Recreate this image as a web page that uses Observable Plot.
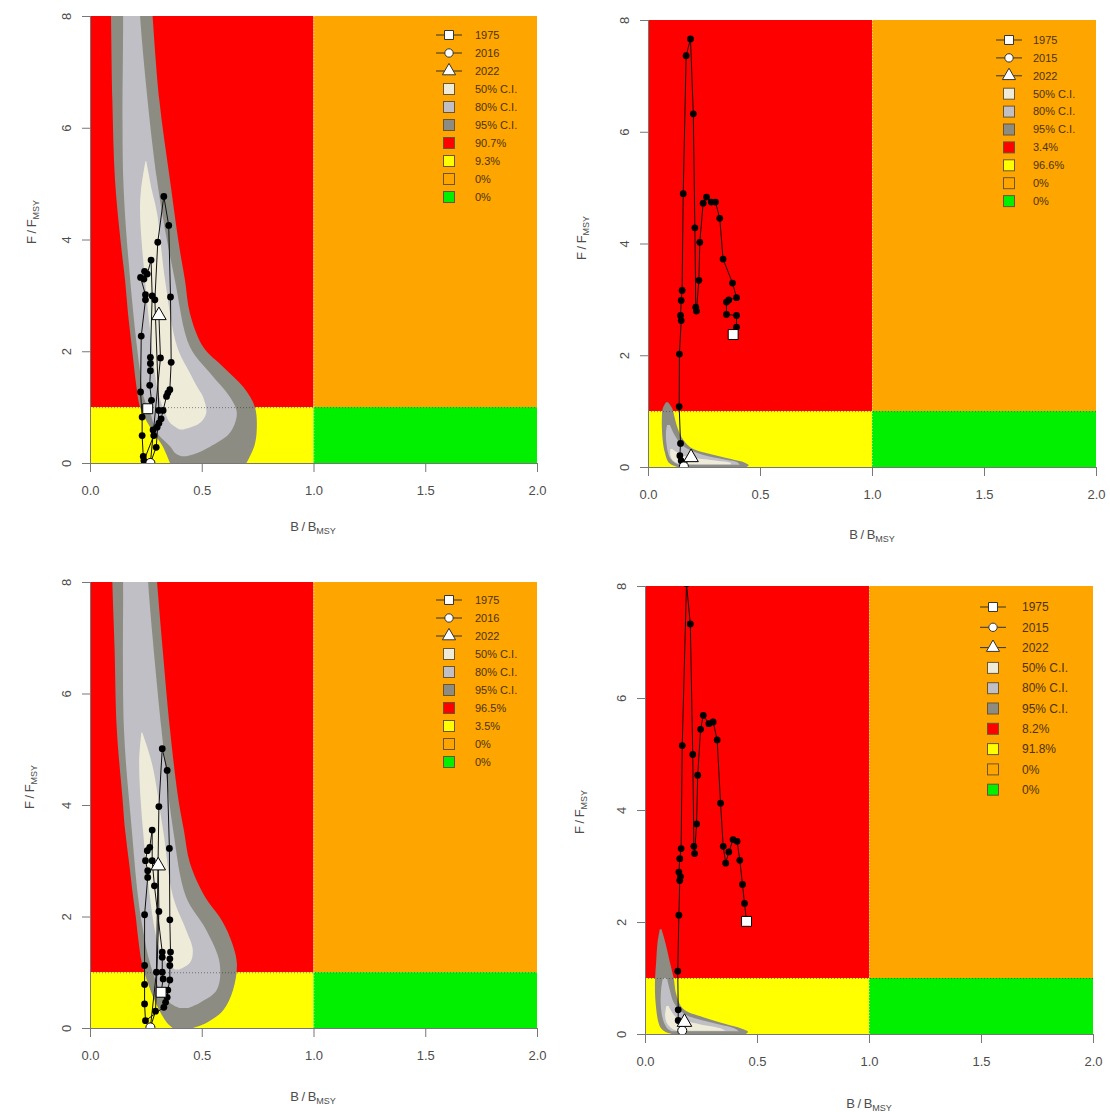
<!DOCTYPE html>
<html><head><meta charset="utf-8">
<script src="https://cdn.jsdelivr.net/npm/d3@7"></script>
<script src="https://cdn.jsdelivr.net/npm/@observablehq/plot@0.6"></script>
<style>
body{margin:0;background:#fff;overflow:hidden;}
#wrap{position:relative;width:1110px;height:1112px;}
.panel{position:absolute;}
</style></head><body><div id="wrap"></div>
<script>
// ---------- shared values ----------
const xTicks = [0, 0.5, 1, 1.5, 2];
const yTicks = [0, 2, 4, 6, 8];
const Bref = 1, Fref = 1, Bmax = 2, Fmax = 8;
const zoneColors = {red: "#FF0000", orange: "#FFA500", yellow: "#FFFF00", green: "#00F000"};
const ciColors = {c50: "#efebd9", c80: "#bfbfc5", c95: "#8c8c82"};
const ciLabels = ["50% C.I.", "80% C.I.", "95% C.I."];

// ---------- panel 1 (top-left) ----------
const p1Years = ["1975", "2016", "2022"];
const p1Pct = ["90.7%", "9.3%", "0%", "0%"];
const p1Traj = [[0.256,0.98],[0.273,1.13],[0.265,1.40],[0.268,1.66],[0.268,1.79],[0.268,1.90],[0.276,3.00],[0.271,3.64],[0.254,3.39],[0.242,3.44],[0.239,3.30],[0.224,3.33],[0.246,3.02],[0.246,2.93],[0.227,2.28],[0.224,1.28],[0.231,0.83],[0.231,0.50],[0.236,0.125],[0.239,0.05],[0.283,0.50],[0.28,0.60],[0.298,0.65],[0.306,0.72],[0.316,0.80],[0.325,0.95],[0.34,1.20],[0.346,1.26],[0.355,1.32],[0.361,1.81],[0.358,2.98],[0.35,4.26],[0.328,4.78],[0.301,3.96],[0.288,2.93],[0.306,0.95],[0.294,0.29],[0.268,0.01],[0.313,1.89],[0.306,2.65]];
const p1Mid = 37;
const p1Ci95 = [[8.5,0.092,0.272],[8,0.094,0.28],[6.5,0.10,0.31],[5.06,0.112,0.358],[3.86,0.14,0.40],[3.27,0.157,0.425],[2.68,0.17,0.447],[2.08,0.187,0.506],[1.72,0.197,0.596],[1.36,0.208,0.686],[1.0,0.224,0.738],[0.59,0.277,0.746],[0.3,0.325,0.735],[0.0,0.358,0.70]];
const p1Ci80 = [[8.5,0.146,0.22],[8,0.148,0.224],[5.06,0.149,0.30],[3.27,0.18,0.38],[2.08,0.21,0.447],[1.61,0.225,0.537],[1.18,0.24,0.626],[0.89,0.27,0.657],[0.54,0.30,0.626],[0.29,0.36,0.537],[0.18,0.38,0.48],[0.12,0.41,0.43]];
const p1Ci50 = [[5.4,0.248,0.252],[4.88,0.228,0.277],[4.47,0.224,0.30],[3.27,0.246,0.336],[2.08,0.277,0.39],[1.61,0.29,0.447],[1.36,0.30,0.48],[1.18,0.31,0.506],[0.89,0.336,0.52],[0.71,0.36,0.49],[0.6,0.40,0.42]];

// ---------- panel 2 (top-right) ----------
const p2Years = ["1975", "2015", "2022"];
const p2Pct = ["3.4%", "96.6%", "0%", "0%"];
const p2Traj = [[0.378,2.38],[0.393,2.51],[0.393,2.72],[0.348,2.74],[0.348,2.96],[0.358,3.0],[0.393,3.04],[0.375,3.3],[0.333,3.73],[0.318,4.46],[0.299,4.75],[0.28,4.75],[0.259,4.84],[0.244,4.73],[0.229,4.03],[0.225,3.35],[0.214,2.8],[0.211,2.87],[0.207,4.29],[0.2,6.33],[0.1875,7.67],[0.168,7.37],[0.155,4.9],[0.15,3.17],[0.146,2.99],[0.143,2.72],[0.146,2.63],[0.138,2.03],[0.137,1.09],[0.143,0.43],[0.14,0.21],[0.146,0.12],[0.158,0.02],[0.19,0.18]];
const p2Mid = 32;
const p2Ci95 = [[1.16,0.08,0.09],[1.05,0.066,0.108],[0.9,0.062,0.118],[0.7,0.062,0.132],[0.5,0.065,0.155],[0.35,0.07,0.19],[0.25,0.076,0.26],[0.16,0.082,0.35],[0.08,0.092,0.43],[0.03,0.11,0.45],[0.0,0.13,0.44]];
const p2Ci80 = [[0.75,0.085,0.098],[0.6,0.08,0.115],[0.4,0.083,0.15],[0.25,0.09,0.22],[0.15,0.1,0.32],[0.08,0.118,0.40],[0.04,0.14,0.41]];
const p2Ci50 = [[0.32,0.10,0.108],[0.2,0.10,0.16],[0.12,0.11,0.29],[0.07,0.13,0.37],[0.05,0.15,0.37]];

// ---------- panel 3 (bottom-left) ----------
const p3Years = ["1975", "2016", "2022"];
const p3Pct = ["96.5%", "3.5%", "0%", "0%"];
const p3Traj = [[0.316,0.65],[0.325,0.89],[0.321,1.01],[0.321,1.28],[0.321,1.37],[0.286,2.56],[0.276,3.01],[0.276,3.56],[0.265,3.25],[0.254,3.19],[0.246,3.01],[0.256,2.83],[0.256,2.71],[0.242,2.04],[0.242,1.13],[0.242,0.79],[0.242,0.44],[0.246,0.14],[0.328,0.38],[0.336,0.47],[0.343,0.56],[0.346,0.69],[0.355,0.87],[0.355,1.13],[0.355,1.25],[0.358,1.37],[0.355,1.95],[0.353,3.23],[0.343,4.63],[0.321,5.02],[0.306,3.98],[0.295,1.01],[0.268,0.02],[0.291,0.31],[0.306,2.10],[0.303,2.92]];
const p3Mid = 32;
const p3Ci95 = [[8.5,0.098,0.29],[8,0.10,0.30],[6.8,0.11,0.325],[5.35,0.12,0.358],[4.14,0.145,0.394],[3.55,0.157,0.42],[2.96,0.175,0.447],[2.35,0.193,0.515],[1.99,0.205,0.58],[1.63,0.215,0.626],[1.17,0.232,0.657],[0.68,0.27,0.64],[0.32,0.31,0.596],[0.09,0.345,0.52],[0.0,0.37,0.46]];
const p3Ci80 = [[8.5,0.146,0.255],[8,0.148,0.26],[5.35,0.152,0.32],[3.55,0.187,0.372],[2.35,0.215,0.43],[1.76,0.237,0.52],[1.17,0.268,0.58],[0.68,0.313,0.567],[0.45,0.358,0.49],[0.36,0.40,0.44]];
const p3Ci50 = [[5.3,0.23,0.234],[4.75,0.22,0.277],[3.55,0.237,0.327],[2.35,0.268,0.372],[1.76,0.29,0.43],[1.4,0.313,0.46],[1.17,0.343,0.447],[1.05,0.38,0.40]];

// ---------- panel 4 (bottom-right) ----------
const p4Years = ["1975", "2015", "2022"];
const p4Pct = ["8.2%", "91.8%", "0%", "0%"];
const p4Traj = [[0.451,2.02],[0.442,2.34],[0.433,2.68],[0.421,3.11],[0.409,3.45],[0.391,3.48],[0.372,3.26],[0.358,3.06],[0.347,3.36],[0.335,4.13],[0.32,5.26],[0.302,5.58],[0.283,5.55],[0.258,5.7],[0.246,5.45],[0.233,4.63],[0.228,3.76],[0.219,3.23],[0.216,3.36],[0.211,5.0],[0.2,7.33],[0.183,8.05],[0.164,5.16],[0.159,3.32],[0.153,3.14],[0.149,2.9],[0.156,2.82],[0.153,2.75],[0.149,2.13],[0.144,1.13],[0.146,0.44],[0.146,0.25],[0.164,0.07],[0.174,0.22]];
const p4Mid = 32;
const p4Ci95 = [[1.87,0.066,0.074],[1.6,0.055,0.093],[1.3,0.05,0.11],[1.0,0.045,0.128],[0.7,0.045,0.14],[0.45,0.05,0.17],[0.3,0.055,0.26],[0.18,0.062,0.36],[0.1,0.072,0.43],[0.04,0.09,0.46],[0.0,0.12,0.45]];
const p4Ci80 = [[1.0,0.08,0.098],[0.8,0.072,0.11],[0.55,0.07,0.13],[0.35,0.075,0.18],[0.2,0.085,0.3],[0.1,0.1,0.4],[0.05,0.12,0.42]];
const p4Ci50 = [[0.5,0.095,0.105],[0.3,0.09,0.14],[0.18,0.1,0.24],[0.1,0.12,0.34],[0.06,0.14,0.36]];

// ---------- drawing ----------
const FONT = "'Liberation Sans', Arial, Helvetica, sans-serif";
const AXIS_COL = "#4d4d4d";

function drawPanel(o) {
  const zones = [
    {x1: 0, x2: Bref, y1: Fref, y2: Fmax, fill: zoneColors.red},
    {x1: Bref, x2: Bmax, y1: Fref, y2: Fmax, fill: zoneColors.orange},
    {x1: 0, x2: Bref, y1: 0, y2: Fref, fill: zoneColors.yellow},
    {x1: Bref, x2: Bmax, y1: 0, y2: Fref, fill: zoneColors.green}
  ];
  const traj = o.traj.map(([B, F]) => ({B, F}));
  const ci = a => a.map(([F, lo, hi]) => ({F, lo, hi})).sort((a, b) => a.F - b.F);
  const first = [traj[0]], mid = [traj[o.mid]], last = [traj[traj.length - 1]];

  const chart = Plot.plot({
    width: o.w, height: o.h,
    marginLeft: o.ml, marginRight: o.mr, marginTop: o.mt, marginBottom: o.mb,
    x: {domain: [0, Bmax]},
    y: {domain: [0, Fmax]},
    color: {type: "identity"},
    style: {fontFamily: FONT, fontSize: "13px", color: AXIS_COL, background: "transparent", overflow: "visible"},
    marks: [
      Plot.rect(zones, {x1: "x1", x2: "x2", y1: "y1", y2: "y2", fill: "fill"}),
      Plot.areaX(ci(o.ci95), {y: "F", x1: "lo", x2: "hi", fill: ciColors.c95, curve: "catmull-rom", clip: true}),
      Plot.areaX(ci(o.ci80), {y: "F", x1: "lo", x2: "hi", fill: ciColors.c80, curve: "catmull-rom", clip: true}),
      Plot.areaX(ci(o.ci50), {y: "F", x1: "lo", x2: "hi", fill: ciColors.c50, curve: "catmull-rom", clip: true}),
      Plot.ruleY([Fref], {stroke: "#333", strokeWidth: 0.8, strokeDasharray: "1,2", strokeOpacity: 0.7}),
      Plot.ruleX([Bref], {stroke: "#eee", strokeWidth: 0.8, strokeDasharray: "1,2", strokeOpacity: 0.8}),
      Plot.line(traj, {x: "B", y: "F", stroke: "#111", strokeWidth: 1, clip: true}),
      Plot.dot(traj, {x: "B", y: "F", fill: "#000", r: 3.4, clip: true}),
      Plot.dot(mid, {x: "B", y: "F", symbol: "circle", r: 4.5, fill: "white", stroke: "#000", strokeWidth: 1, clip: true}),
      Plot.dot(first, {x: "B", y: "F", symbol: "square", r: 5.6, fill: "white", stroke: "#000", strokeWidth: 1, clip: true}),
      Plot.dot(last, {x: "B", y: "F", symbol: "triangle", r: 5.4, fill: "white", stroke: "#000", strokeWidth: 1, clip: true}),
      Plot.ruleY([0], {stroke: "#777"}),
      Plot.ruleX([0], {stroke: "#777"}),
      Plot.axisX({ticks: xTicks, tickFormat: d3.format(".1f"), tickSize: 9, tickPadding: 13, stroke: "#777", fill: AXIS_COL, label: null, fontSize: 13}),
      Plot.axisY({ticks: yTicks, tickSize: 8, tickPadding: 12, tickRotate: -90, stroke: "#777", fill: AXIS_COL, label: null, fontSize: 13})
    ]
  });

  const svg = d3.select(chart);
  // axis titles with subscripts
  const xl = svg.append("text").attr("x", o.xlab[0]).attr("y", o.xlab[1])
    .attr("text-anchor", "middle").attr("fill", AXIS_COL).attr("font-family", FONT).attr("font-size", 13);
  xl.append("tspan").text("B\u2009/\u2009B");
  xl.append("tspan").attr("font-size", 9).attr("dy", 3).text("MSY");
  const yl = svg.append("text").attr("transform", `translate(${o.ylab[0]},${o.ylab[1]}) rotate(-90)`)
    .attr("text-anchor", "middle").attr("fill", AXIS_COL).attr("font-family", FONT).attr("font-size", 13);
  yl.append("tspan").text("F\u2009/\u2009F");
  yl.append("tspan").attr("font-size", 9).attr("dy", 3).text("MSY");

  // legend
  const g = svg.append("g").attr("font-family", FONT).attr("font-size", o.legFs).attr("text-anchor", "start");
  const syms = [d3.symbolSquare, d3.symbolCircle, d3.symbolTriangle];
  const symSizes = [80, 55, 75];
  const swFills = [ciColors.c50, ciColors.c80, ciColors.c95, zoneColors.red, zoneColors.yellow, zoneColors.orange, zoneColors.green];
  const rows = [
    ...o.years.map((label, i) => ({kind: "line", i, label})),
    ...ciLabels.map((label, i) => ({kind: "sw", fill: swFills[i], label})),
    ...o.pct.map((label, i) => ({kind: "sw", fill: swFills[3 + i], label}))
  ];
  rows.forEach((r, k) => {
    const y = o.legY + k * o.legDy;
    if (r.kind === "line") {
      g.append("line").attr("x1", o.legX - 13).attr("x2", o.legX + 13).attr("y1", y).attr("y2", y).attr("stroke", "#333");
      g.append("path").attr("d", d3.symbol(syms[r.i], symSizes[r.i])())
        .attr("transform", `translate(${o.legX},${y})`).attr("fill", "white").attr("stroke", "#333");
    } else {
      g.append("rect").attr("x", o.legX - 5.5).attr("y", y - 5.5).attr("width", 11).attr("height", 11)
        .attr("fill", r.fill).attr("stroke", "#6a5530");
    }
    g.append("text").attr("x", o.legTx).attr("y", y).attr("dy", "0.35em").attr("text-anchor", "start")
      .attr("fill", "#4a3412").text(r.label);
  });

  const div = document.createElement("div");
  div.className = "panel";
  div.style.left = o.left + "px";
  div.style.top = o.top + "px";
  div.appendChild(chart);
  document.getElementById("wrap").appendChild(div);
}

drawPanel({left: 0, top: 0, w: 555, h: 548, ml: 90, mr: 18, mt: 16, mb: 85,
  traj: p1Traj, mid: p1Mid, ci95: p1Ci95, ci80: p1Ci80, ci50: p1Ci50, years: p1Years, pct: p1Pct,
  xlab: [313, 531], ylab: [36, 222], legX: 449, legTx: 475, legY: 35, legDy: 18, legFs: 11});
drawPanel({left: 555, top: 0, w: 555, h: 552, ml: 93, mr: 14, mt: 20, mb: 85,
  traj: p2Traj, mid: p2Mid, ci95: p2Ci95, ci80: p2Ci80, ci50: p2Ci50, years: p2Years, pct: p2Pct,
  xlab: [317, 539], ylab: [31, 238], legX: 454, legTx: 478, legY: 40, legDy: 17.9, legFs: 11});
drawPanel({left: 0, top: 560, w: 555, h: 552, ml: 90, mr: 18, mt: 22, mb: 84,
  traj: p3Traj, mid: p3Mid, ci95: p3Ci95, ci80: p3Ci80, ci50: p3Ci50, years: p3Years, pct: p3Pct,
  xlab: [313, 541], ylab: [34, 227], legX: 449, legTx: 475, legY: 40, legDy: 18, legFs: 11});
drawPanel({left: 555, top: 560, w: 555, h: 552, ml: 90, mr: 17, mt: 26, mb: 78,
  traj: p4Traj, mid: p4Mid, ci95: p4Ci95, ci80: p4Ci80, ci50: p4Ci50, years: p4Years, pct: p4Pct,
  xlab: [314, 548], ylab: [29, 252], legX: 438, legTx: 467, legY: 47, legDy: 20.3, legFs: 12});
</script></body></html>
